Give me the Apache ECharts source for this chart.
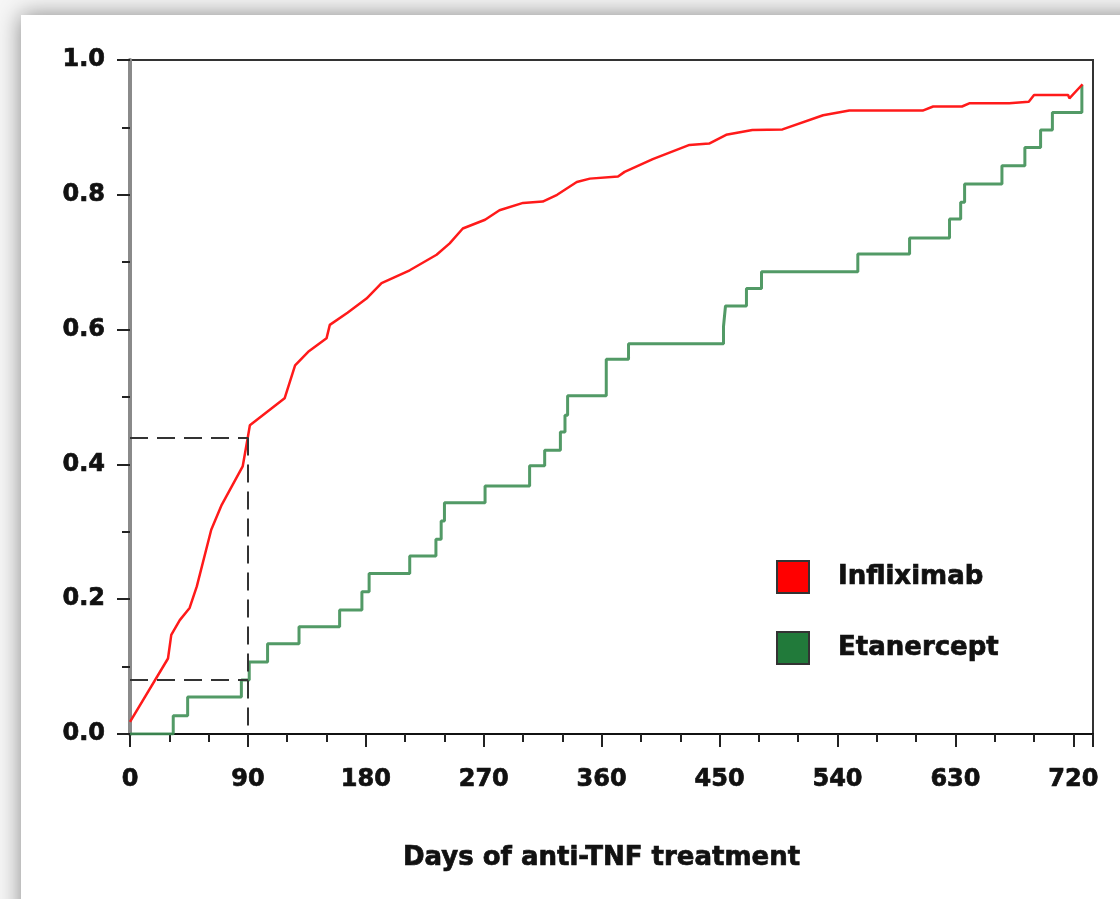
<!DOCTYPE html>
<html>
<head>
<meta charset="utf-8">
<script src="https://cdn.jsdelivr.net/npm/echarts@6/dist/echarts.min.js"></script>
<style>
  html, body { margin: 0; padding: 0; background: #fff; }
  #chart { width: 1120px; height: 899px; }
</style>
</head>
<body>
<div id="chart"></div>
<script>
// Infliximab: [days, cumulative proportion]
const infliximab = [
  [0, 0.018], [29, 0.112], [31.5, 0.147], [38, 0.169], [45.5, 0.187], [51, 0.219],
  [62, 0.303], [70, 0.340], [86, 0.397], [90, 0.441], [91.5, 0.458], [118, 0.498],
  [126, 0.547], [136, 0.567], [150, 0.587], [152.5, 0.607], [166, 0.625], [180.5, 0.646],
  [192, 0.669], [213.5, 0.688], [234, 0.711], [244, 0.728], [254, 0.750], [271, 0.763],
  [282, 0.777], [300, 0.788], [315, 0.790], [326, 0.800], [341, 0.819], [351, 0.824],
  [372.5, 0.827], [377.5, 0.834], [399, 0.853], [427, 0.874], [442, 0.876], [455, 0.889],
  [475, 0.896], [498, 0.897], [529, 0.918], [549, 0.925], [605, 0.925], [613, 0.931],
  [635, 0.931], [641, 0.936], [671, 0.936], [686, 0.938], [690, 0.948], [716, 0.948],
  [717, 0.943], [727, 0.964]
]

// Etanercept: step points [day, value from that day on]
const etanercept = [
  [0, 0], [33, 0.027], [44, 0.055], [85, 0.080], [91, 0.107], [105, 0.134],
  [129, 0.159], [160, 0.184], [177, 0.211], [182.5, 0.238], [213.5, 0.264], [233.5, 0.289],
  [237.5, 0.316], [240, 0.343], [271, 0.368], [305, 0.398], [316.5, 0.421], [328.5, 0.448],
  [332, 0.473], [334, 0.502], [363.5, 0.556], [380.5, 0.579], [453, 0.605], [454.5, 0.635],
  [470.5, 0.661], [482, 0.686], [555.5, 0.712], [595, 0.736], [625.5, 0.764], [634, 0.789],
  [637, 0.816], [665.5, 0.843], [683, 0.870], [695, 0.896], [704, 0.922], [726.5, 0.963]
]

// dashed reference lines at 90 days
const refDay = 90
const refInfliximab = 0.44
const refEtanercept = 0.08

const seriesNames = ['Infliximab', 'Etanercept']

const font = 'DejaVu Sans, Verdana, sans-serif'
// a thin outline in the text colour makes the labels as heavy as the original
const heavy = { fontFamily: font, fontWeight: 'bold', color: '#111', textBorderColor: '#111', textBorderWidth: 0.7 }

const chart = echarts.init(document.getElementById('chart'))
chart.setOption({
  backgroundColor: '#f6f6f6',
  animation: false,
  graphic: [
    {
      type: 'rect',
      z: -10,
      silent: true,
      shape: { x: 21, y: 15, width: 1200, height: 1000 },
      style: { fill: '#fff', shadowBlur: 22, shadowColor: 'rgba(0,0,0,0.45)' }
    }
  ],
  grid: {
    left: 130,
    right: 27,
    top: 60,
    bottom: 165,
    show: true,
    borderColor: '#333',
    borderWidth: 2,
    backgroundColor: '#fff'
  },
  legend: {
    orient: 'vertical',
    left: 776,
    top: 560,
    padding: 0,
    itemWidth: 32,
    itemHeight: 32,
    itemGap: 37,
    icon: 'rect',
    selectedMode: false,
    textStyle: Object.assign({ fontSize: 26, padding: [0, 0, 0, 24] }, heavy),
    data: [
      { name: seriesNames[0], itemStyle: { color: '#ff0000', borderColor: '#333', borderWidth: 2 } },
      { name: seriesNames[1], itemStyle: { color: '#217a3a', borderColor: '#333', borderWidth: 2 } }
    ]
  },
  xAxis: {
    type: 'value',
    min: 0,
    max: 735,
    interval: 90,
    name: 'Days of anti-TNF treatment',
    nameLocation: 'middle',
    nameGap: 111,
    nameTextStyle: Object.assign({ fontSize: 26, padding: [0, 20, 0, 0] }, heavy),
    axisLine: { show: true, lineStyle: { color: '#111', width: 2 } },
    axisTick: { show: true, inside: false, length: 13, lineStyle: { color: '#222', width: 2 } },
    minorTick: { show: true, splitNumber: 3, length: 8, lineStyle: { color: '#222', width: 2 } },
    splitLine: { show: false },
    axisLabel: Object.assign({ margin: 34, fontSize: 24, showMaxLabel: false }, heavy)
  },
  yAxis: {
    type: 'value',
    min: 0,
    max: 1,
    interval: 0.2,
    axisLine: { show: true, lineStyle: { color: '#8a8a8a', width: 4 } },
    axisTick: { show: true, inside: false, length: 13, lineStyle: { color: '#222', width: 2 } },
    minorTick: { show: true, splitNumber: 2, length: 8, lineStyle: { color: '#222', width: 2 } },
    splitLine: { show: false },
    axisLabel: Object.assign({ margin: 25, fontSize: 24, formatter: (v) => v.toFixed(1) }, heavy)
  },
  series: [
    {
      name: seriesNames[0],
      type: 'line',
      data: infliximab,
      showSymbol: false,
      color: '#ff0000',
      lineStyle: { color: '#ff1a1a', width: 2.5 },
      z: 3,
      markLine: {
        silent: true,
        symbol: 'none',
        label: { show: false },
        lineStyle: { color: '#333', width: 2, type: [18, 9] },
        data: [
          [{ coord: [0, refInfliximab] }, { coord: [refDay, refInfliximab] }],
          [{ coord: [refDay, refInfliximab] }, { coord: [refDay, 0] }],
          [{ coord: [0, refEtanercept] }, { coord: [refDay, refEtanercept] }]
        ]
      }
    },
    {
      name: seriesNames[1],
      type: 'line',
      step: 'end',
      data: etanercept,
      showSymbol: false,
      color: '#217a3a',
      lineStyle: { color: '#3f8f55', width: 3, opacity: 0.9 },
      z: 2
    }
  ]
})
</script>
</body>
</html>
